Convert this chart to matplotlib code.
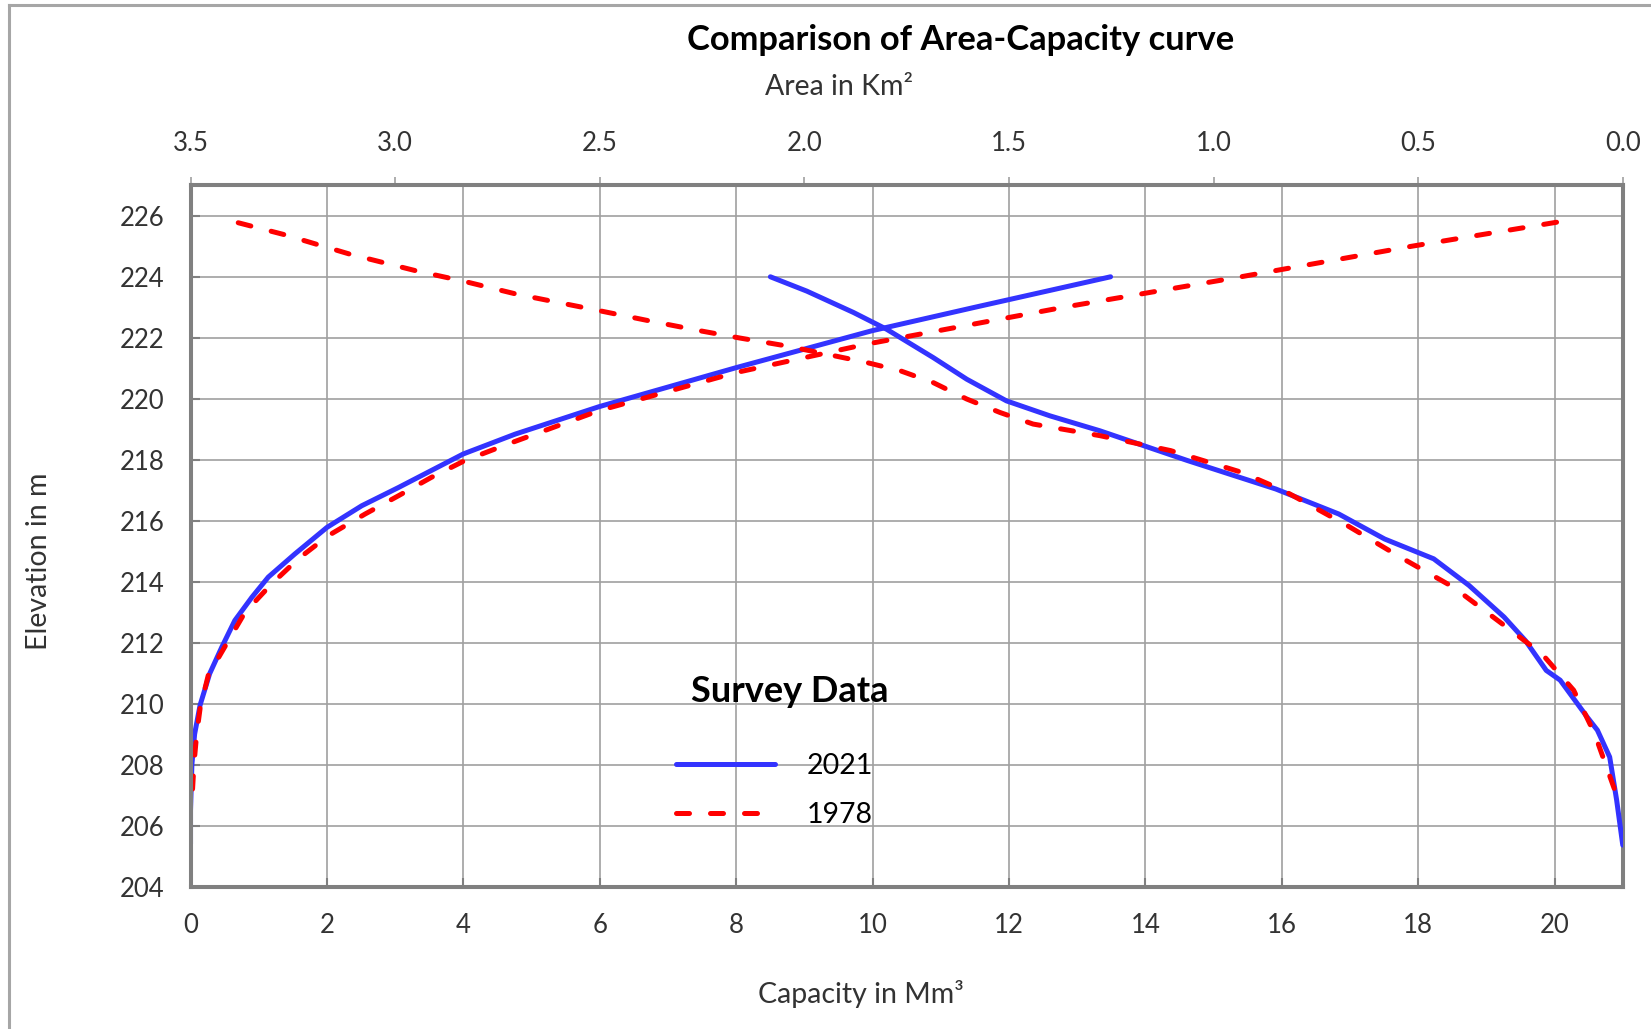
import numpy as np
import matplotlib.pyplot as plt
from matplotlib.lines import Line2D
from matplotlib.ticker import FormatStrFormatter

plt.rcParams['font.family'] = ['Lato', 'DejaVu Sans']

# elevation (m) vs capacity (Mm3)
elev_cap_2021 = [205.4, 206.5, 208.0, 209.0, 209.95, 210.98, 211.86, 212.73, 213.49, 214.15, 214.91, 215.78,
                 216.49, 217.09, 218.19, 218.84, 219.74, 221.02, 222.23, 223.0, 224.0]
cap_2021 = [0.0, 0.0, 0.02, 0.06, 0.14, 0.28, 0.46, 0.65, 0.90, 1.14, 1.53, 2.0,
            2.51, 3.05, 4.0, 4.76, 5.99, 8.0, 9.99, 11.5, 13.49]

elev_cap_1978 = [207.2, 208.0, 209.0, 209.84, 210.93, 211.97, 213.0, 213.93, 214.75, 215.51, 216.22, 216.82,
                 217.42, 217.97, 218.52, 219.61, 220.86, 221.79, 223.0, 224.0, 225.0, 225.83]
cap_1978 = [0.03, 0.05, 0.09, 0.14, 0.26, 0.53, 0.80, 1.19, 1.58, 2.02, 2.56, 3.05,
            3.53, 4.02, 4.66, 5.99, 8.0, 9.91, 12.8, 15.4, 17.9, 20.14]

# elevation (m) vs water spread area (Km2)
elev_area_2021 = [205.36, 206.84, 208.25, 209.13, 209.56, 210.77, 211.09, 212.07, 212.84, 213.88, 214.75, 215.40,
                  216.22, 217.04, 217.97, 218.95, 219.44, 219.93, 220.64, 221.35, 222.28, 222.83, 223.53, 224.0]
area_2021 = [0.0, 0.015, 0.032, 0.062, 0.087, 0.153, 0.187, 0.238, 0.290, 0.376, 0.462, 0.582,
             0.694, 0.848, 1.063, 1.278, 1.40, 1.506, 1.603, 1.685, 1.799, 1.880, 1.994, 2.083]

elev_area_1978 = [207.22, 209.02, 210.44, 211.64, 212.51, 213.82, 214.80, 215.84, 216.99, 217.59, 218.30, 218.79,
                  219.17, 219.55, 219.99, 220.53, 220.92, 221.19, 221.46, 221.73, 221.99, 222.23, 222.55, 222.94,
                  223.43, 223.86, 224.19, 224.74, 225.39, 225.83]
area_1978 = [0.021, 0.069, 0.120, 0.198, 0.284, 0.414, 0.543, 0.673, 0.829, 0.932, 1.105, 1.278,
             1.441, 1.522, 1.603, 1.685, 1.766, 1.848, 1.945, 2.043, 2.157, 2.255, 2.377, 2.52,
             2.703, 2.834, 2.947, 3.110, 3.273, 3.40]

surveys = ['2021', '1978']

blue = '#3333ff'
red = '#ff0000'
grey = '#808080'
txt = '#333333'

fig = plt.figure(figsize=(16.51, 10.29), dpi=100)
ax = fig.add_axes([0.1154, 0.1384, 0.8675, 0.6815])
ax2 = ax.twiny()

l21, = ax.plot(cap_2021, elev_cap_2021, color=blue, lw=3.6, solid_capstyle='round',
               solid_joinstyle='round', zorder=3)
l78, = ax.plot(cap_1978, elev_cap_1978, color=red, lw=3.6, dashes=(2.6, 4.2),
               dash_capstyle='round', zorder=4)
ax2.plot(area_2021, elev_area_2021, color=blue, lw=3.6, solid_capstyle='round',
         solid_joinstyle='round', zorder=3)
ax2.plot(area_1978, elev_area_1978, color=red, lw=3.6, dashes=(2.6, 4.2),
         dash_capstyle='round', zorder=4)

ax.set_xlim(0, 21)
ax.set_ylim(204, 227)
ax.set_xticks(np.arange(0, 21, 2))
ax.set_yticks(np.arange(204, 227, 2))
ax.grid(color='#a0a0a0', lw=1.2)
ax.set_axisbelow(True)

ax2.set_xlim(3.5, 0)
ax2.set_xticks(np.arange(0, 3.51, 0.5))
ax2.xaxis.set_major_formatter(FormatStrFormatter('%.1f'))

for a in (ax, ax2):
    for s in a.spines.values():
        s.set_color(grey)
        s.set_linewidth(2.9)

ax.tick_params(axis='both', direction='in', length=6.5, width=1.5, color=grey,
               labelsize=18.5, labelcolor=txt, pad=19)
ax2.tick_params(axis='x', direction='out', length=6, width=1.2, color='#a0a0a0',
                labelsize=18.5, labelcolor=txt, pad=15)

fig.text(0.582, 0.9514, 'Comparison of Area-Capacity curve', ha='center', va='baseline',
         fontsize=24.8, fontweight='bold', color='black')
fig.text(0.508, 0.9077, 'Area in Km²', ha='center', va='baseline', fontsize=20.5, color=txt)
fig.text(0.5216, 0.0248, 'Capacity in Mm³', ha='center', va='baseline', fontsize=20.5, color=txt)
fig.text(0.0236, 0.455, 'Elevation in m', ha='center', va='center', rotation=90,
         fontsize=20.5, color=txt)

# legend block
fig.text(0.4784, 0.3181, 'Survey Data', ha='center', va='baseline', fontsize=26,
         fontweight='bold', color='black')
ax.legend(handles=[l21, l78], labels=surveys, fontsize=20.5, frameon=False,
          loc='center left', bbox_to_anchor=(0.4094, 0.2315), bbox_transform=fig.transFigure,
          borderpad=0, borderaxespad=0, handlelength=3.48, handletextpad=1.12,
          labelspacing=0.8)

# outer chart frame
fig.add_artist(Line2D([9 / 1651, 9 / 1651], [0, 1 - 5 / 1029], transform=fig.transFigure,
                      color='#a6a6a6', lw=2.2))
fig.add_artist(Line2D([9 / 1651, 1], [1 - 5 / 1029, 1 - 5 / 1029], transform=fig.transFigure,
                      color='#a6a6a6', lw=2.2))

fig.savefig('out.png', dpi=100)
